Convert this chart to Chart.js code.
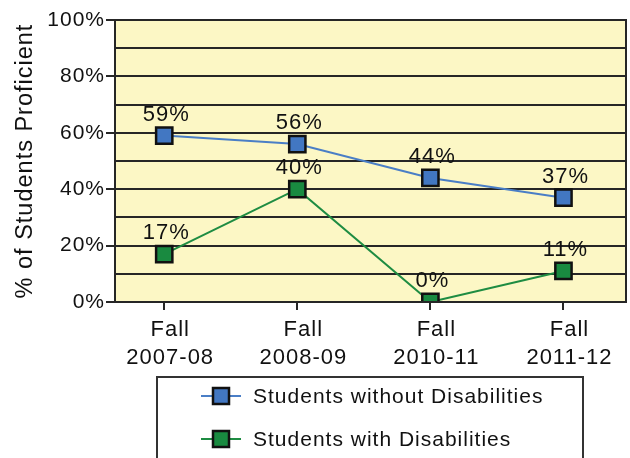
<!DOCTYPE html>
<html>
<head>
<meta charset="utf-8">
<script src="https://cdn.jsdelivr.net/npm/chart.js@4"></script>
<style>
  html, body { margin: 0; padding: 0; background: #fff; }
  #wrap { width: 630px; height: 458px; }
</style>
</head>
<body>
<div id="wrap"><canvas id="myChart" width="630" height="458"></canvas></div>
<script>
const categories = [['Fall', '2007-08'], ['Fall', '2008-09'], ['Fall', '2010-11'], ['Fall', '2011-12']];
const seriesNames = ['Students without Disabilities', 'Students with Disabilities'];
const withoutDisabilities = [59, 56, 44, 37];
const withDisabilities = [17, 40, 0, 11];
const yTicks = [0, 20, 40, 60, 80, 100];

const lineColors = ['#4a7ec6', '#1e8c42'];
const fillColors = ['#4277c2', '#198a40'];
const FONT = '"Liberation Sans", Arial, sans-serif';

const toPoints = arr => arr.map((v, i) => ({ x: i, y: v }));

// loose tracking like the original artwork
const tracking = {
	id: 'tracking',
	beforeUpdate(chart) { chart.ctx.letterSpacing = '1px'; },
	beforeDraw(chart) { chart.ctx.letterSpacing = '1px'; }
};

// stretch the plot area out to the right edge like the original
const plotRight = {
	id: 'plotRight',
	afterLayout(chart) {
		const right = chart.width - 4;
		chart.chartArea.right = right;
		chart.chartArea.width = right - chart.chartArea.left;
		const x = chart.scales.x;
		x.right = right;
		x.width = right - x.left;
		x.configure();
	}
};

// plot frame + yellow background
const framePlugin = {
	id: 'frame',
	beforeDraw(chart) {
		const { ctx, chartArea: a } = chart;
		ctx.save();
		ctx.fillStyle = '#fcf7c5';
		ctx.fillRect(a.left, a.top, a.right - a.left, a.bottom - a.top);
		ctx.restore();
	},
	afterDatasetsDraw(chart) {
		const { ctx, chartArea: a } = chart;
		ctx.save();
		ctx.strokeStyle = '#262626';
		ctx.lineWidth = 2;
		ctx.strokeRect(a.left, a.top, a.right - a.left, a.bottom - a.top);
		ctx.restore();
	}
};

// value labels above the points
const valueLabels = {
	id: 'valueLabels',
	afterDatasetsDraw(chart) {
		const ctx = chart.ctx;
		ctx.save();
		ctx.font = '22px ' + FONT;
		ctx.fillStyle = '#111';
		ctx.textAlign = 'center';
		ctx.textBaseline = 'middle';
		chart.data.datasets.forEach((ds, di) => {
			chart.getDatasetMeta(di).data.forEach((pt, i) => {
				ctx.fillText(ds.data[i].y + '%', pt.x + 2, pt.y - 21);
			});
		});
		ctx.restore();
	}
};

// boxed legend below the axis
const boxLegend = {
	id: 'boxLegend',
	afterDraw(chart) {
		const ctx = chart.ctx;
		ctx.save();
		ctx.strokeStyle = '#333';
		ctx.lineWidth = 2;
		ctx.strokeRect(157, 377, 426, 100);
		ctx.font = '21px ' + FONT;
		ctx.textBaseline = 'middle';
		chart.data.datasets.forEach((ds, i) => {
			const y = 396 + i * 43;
			ctx.strokeStyle = ds.borderColor;
			ctx.lineWidth = 2;
			ctx.beginPath();
			ctx.moveTo(201, y);
			ctx.lineTo(241, y);
			ctx.stroke();
			ctx.fillStyle = ds.pointBackgroundColor;
			ctx.fillRect(213, y - 8, 16, 16);
			ctx.strokeStyle = '#111';
			ctx.lineWidth = 2.5;
			ctx.strokeRect(213, y - 8, 16, 16);
			ctx.fillStyle = '#111';
			ctx.fillText(ds.label, 253, y + 1);
		});
		ctx.restore();
	}
};

const makeDataset = (label, values, i) => ({
	label: label,
	data: toPoints(values),
	borderColor: lineColors[i],
	borderWidth: 2,
	pointStyle: 'rect',
	pointRadius: 11.5,
	pointHoverRadius: 11.5,
	pointBackgroundColor: fillColors[i],
	pointBorderColor: '#111',
	pointBorderWidth: 2.5,
	tension: 0
});

const ctx = document.getElementById('myChart').getContext('2d');
let myChart = new Chart(ctx, {
	type: 'line',
	data: {
		datasets: [
			makeDataset(seriesNames[0], withoutDisabilities, 0),
			makeDataset(seriesNames[1], withDisabilities, 1)
		]
	},
	plugins: [tracking, plotRight, framePlugin, valueLabels, boxLegend],
	options: {
		responsive: false,
		animation: false,
		layout: { padding: { top: 20, right: 4, left: 0, bottom: 0 } },
		plugins: { legend: { display: false }, tooltip: { enabled: false } },
		scales: {
			x: {
				type: 'linear',
				min: -0.37,
				max: 3.47,
				afterBuildTicks: scale => {
					scale.ticks = categories.map((c, i) => ({ value: i }));
				},
				afterFit: scale => { scale.height = 458 - 302; },
				border: { display: false },
				grid: {
					drawOnChartArea: false,
					drawTicks: true,
					tickLength: 8,
					color: '#262626',
					lineWidth: 2
				},
				ticks: {
					autoSkip: false,
					maxRotation: 0,
					padding: 6,
					labelOffset: 6,
					color: '#111',
					font: { family: FONT, size: 22, lineHeight: 1.28 },
					callback: v => categories[v]
				}
			},
			y: {
				min: 0,
				max: 100,
				afterBuildTicks: scale => {
					const out = [];
					for (let v = 0; v <= 100; v += 10) out.push({ value: v });
					scale.ticks = out;
				},
				afterFit: scale => { scale.width = 115; },
				border: { display: false },
				grid: {
					color: '#262626',
					lineWidth: 2,
					tickLength: 9,
					tickColor: c => yTicks.includes(c.tick.value) ? '#262626' : 'rgba(0,0,0,0)'
				},
				ticks: {
					padding: 1,
					color: '#111',
					font: { family: FONT, size: 21 },
					callback: v => yTicks.includes(v) ? v + '%' : ''
				},
				title: {
					display: true,
					text: '% of Students Proficient',
					color: '#111',
					font: { family: FONT, size: 23.5 },
					padding: { top: 11, bottom: 0 }
				}
			}
		}
	}
});
</script>
</body>
</html>
